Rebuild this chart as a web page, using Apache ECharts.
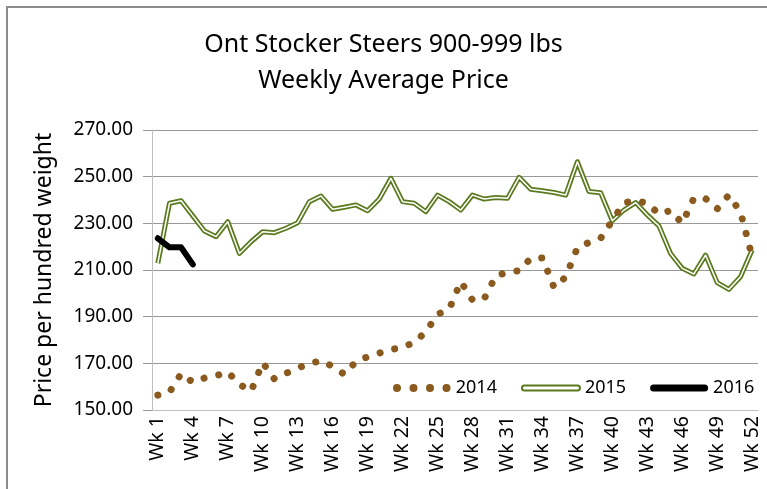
<!DOCTYPE html>
<html>
<head>
<meta charset="utf-8">
<script src="https://cdn.jsdelivr.net/npm/echarts@6/dist/echarts.min.js"></script>
<style>
  html, body { margin: 0; padding: 0; background: #fff; }
  #chart { width: 767px; height: 489px; }
</style>
</head>
<body>
<div id="chart"></div>
<script>
var weeks = ['Wk 1','Wk 2','Wk 3','Wk 4','Wk 5','Wk 6','Wk 7','Wk 8','Wk 9','Wk 10',
  'Wk 11','Wk 12','Wk 13','Wk 14','Wk 15','Wk 16','Wk 17','Wk 18','Wk 19','Wk 20',
  'Wk 21','Wk 22','Wk 23','Wk 24','Wk 25','Wk 26','Wk 27','Wk 28','Wk 29','Wk 30',
  'Wk 31','Wk 32','Wk 33','Wk 34','Wk 35','Wk 36','Wk 37','Wk 38','Wk 39','Wk 40',
  'Wk 41','Wk 42','Wk 43','Wk 44','Wk 45','Wk 46','Wk 47','Wk 48','Wk 49','Wk 50',
  'Wk 51','Wk 52'];

var price2014 = [156.4, 157.6, 165.6, 161.9, 163.7, 164.7, 166.3, 161.0, 158.0, 170.3,
  163.3, 165.7, 168.0, 169.8, 171.2, 168.7, 165.3, 170.7, 172.8, 174.4,
  175.9, 176.8, 179.0, 183.5, 191.0, 193.2, 205.0, 197.1, 197.6, 207.5,
  209.0, 209.7, 215.0, 215.2, 202.5, 207.0, 219.5, 221.8, 223.6, 231.2,
  238.8, 239.8, 238.6, 234.0, 235.5, 230.0, 240.8, 240.6, 236.2, 242.1,
  234.8, 215.7];

var price2015 = [212.9, 238.6, 239.7, 233.2, 226.7, 224.3, 230.7, 217.1, 222.1, 226.4,
  226.0, 227.9, 230.3, 239.3, 241.7, 236.0, 236.9, 237.9, 235.4, 240.4,
  249.3, 239.3, 238.6, 235.0, 242.1, 239.3, 235.7, 242.1, 240.4, 241.1,
  240.7, 249.7, 244.6, 244.0, 243.2, 242.1, 256.4, 243.6, 243.1, 231.1,
  235.7, 238.9, 233.6, 228.9, 217.1, 210.7, 208.3, 216.4, 204.6, 201.7,
  207.1, 218.6];

var price2016 = [223.6, 219.7, 219.7, 212.4];

var brown = '#8a5a1e';
var green = '#5b7a1e';

var myChart = echarts.init(document.getElementById('chart'));

var option = {
  animation: false,
  textStyle: { fontFamily: 'Noto Sans' },
  title: {
    text: 'Ont Stocker Steers 900-999 lbs\nWeekly Average Price',
    left: 'center',
    top: 22,
    textStyle: { fontSize: 25, fontWeight: 'normal', color: '#000', lineHeight: 36, fontFamily: 'Noto Sans' }
  },
  graphic: [{
    type: 'rect',
    shape: { x: 7, y: 7, width: 800, height: 500 },
    style: { fill: 'none', stroke: '#8c8c8c', lineWidth: 2 },
    silent: true
  }],
  legend: {
    left: 388,
    top: 374,
    itemWidth: 58,
    itemHeight: 8,
    itemGap: 24,
    textStyle: { fontSize: 18, color: '#000' },
    data: [
      { name: '2014', icon: 'path://M0,4a4,4 0 1,0 8,0a4,4 0 1,0 -8,0M16.5,4a4,4 0 1,0 8,0a4,4 0 1,0 -8,0M33,4a4,4 0 1,0 8,0a4,4 0 1,0 -8,0M49.5,4a4,4 0 1,0 8,0a4,4 0 1,0 -8,0',
        itemStyle: { color: brown } },
      { name: '2015', icon: 'path://M2.5,1.5H55.5A2.5,2.5,0,0,1,55.5,6.5H2.5A2.5,2.5,0,0,1,2.5,1.5Z',
        itemStyle: { color: '#fff', borderColor: green, borderWidth: 2 } },
      { name: '2016', icon: 'path://M3.5,0.5H54.5A3.5,3.5,0,0,1,54.5,7.5H3.5A3.5,3.5,0,0,1,3.5,0.5Z',
        itemStyle: { color: '#000' } }
    ]
  },
  grid: { left: 152, right: 9, top: 130, bottom: 79 },
  xAxis: {
    type: 'category',
    data: weeks,
    boundaryGap: true,
    axisLine: { lineStyle: { color: '#bfbfbf', width: 1 } },
    axisTick: { interval: 0, length: 6, lineStyle: { color: '#bfbfbf' } },
    axisLabel: { interval: 2, rotate: 90, fontSize: 19.5, color: '#000', margin: 6 }
  },
  yAxis: {
    type: 'value',
    min: 150,
    max: 270,
    interval: 20,
    name: 'Price per hundred weight',
    nameLocation: 'middle',
    nameGap: 96,
    nameTextStyle: { fontSize: 23, color: '#000' },
    axisLine: { show: true, lineStyle: { color: '#bfbfbf' } },
    axisTick: { show: true, length: 9, lineStyle: { color: '#999' } },
    axisLabel: { fontSize: 19, color: '#000', margin: 19, formatter: function (v) { return v.toFixed(2); } },
    splitLine: { lineStyle: { color: '#999', width: 1 } }
  },
  series: [
    {
      name: '2015', type: 'line', data: price2015, symbol: 'none', z: 2,
      lineStyle: { color: green, width: 5, join: 'round' },
      itemStyle: { color: green }
    },
    {
      name: '2015', type: 'line', data: price2015, symbol: 'none', z: 3, silent: true,
      lineStyle: { color: '#fff', width: 1.5, join: 'round' },
      itemStyle: { color: green }
    },
    {
      name: '2014', type: 'line', data: price2014, symbol: 'none', z: 4,
      lineStyle: { color: brown, width: 7, type: [0.1, 15], cap: 'round', join: 'round' },
      itemStyle: { color: brown }
    },
    {
      name: '2016', type: 'line', data: price2016, symbol: 'none', z: 5,
      lineStyle: { color: '#000', width: 6, cap: 'round', join: 'round' },
      itemStyle: { color: '#000' }
    }
  ]
};

myChart.setOption(option);
</script>
</body>
</html>
